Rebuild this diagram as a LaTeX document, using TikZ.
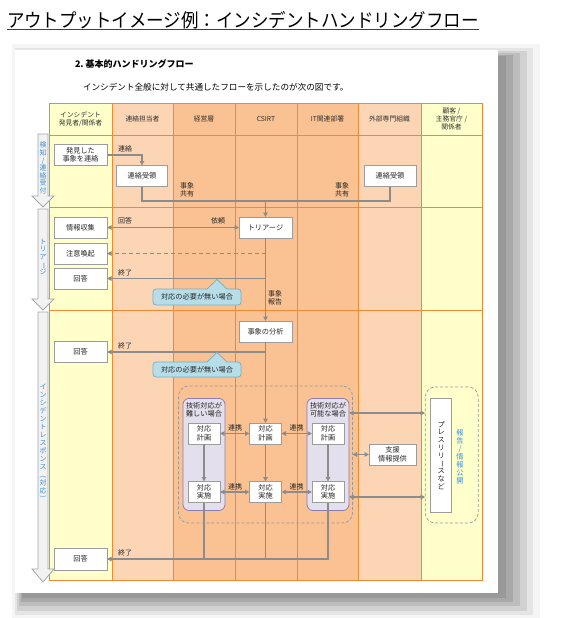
\documentclass[tikz,border=0pt]{standalone}
\usepackage{fontspec}
\setmainfont{Noto Sans CJK JP}
\usepackage{graphicx}
\usetikzlibrary{arrows.meta}
\definecolor{lineorange}{HTML}{EE8A33}
\definecolor{laneyellow}{HTML}{FFFFCC}
\definecolor{lanelight}{HTML}{FCD5B5}
\definecolor{lanedark}{HTML}{FAC192}
\definecolor{boxgray}{HTML}{9C9C9C}
\definecolor{flowgray}{HTML}{8C8C8C}
\definecolor{calloutblue}{HTML}{B7DEE8}
\definecolor{calloutedge}{HTML}{72AFC4}
\definecolor{teamfill}{HTML}{E4DFEC}
\definecolor{teamedge}{HTML}{8E7BAF}
\definecolor{phaseblue}{HTML}{3A8FD8}
\definecolor{phasegray}{HTML}{A6A6A6}
\definecolor{phasefill}{HTML}{F2F2F2}
\newcommand{\tatebo}{\rotatebox[origin=c]{-90}{ー}}
\newcommand{\tatelp}{\rotatebox[origin=c]{-90}{（}}
\newcommand{\taterp}{\rotatebox[origin=c]{-90}{）}}

\begin{document}
\begin{tikzpicture}[y=1pt, x=1pt, yscale=-1, inner sep=0pt, outer sep=0pt,
  lane/.style={draw=lineorange, line width=0.9pt},
  lanehead/.style={align=center, text=black!80, font=\fontsize{6.8}{8}\selectfont},
  stepbox/.style={draw=boxgray, fill=white, line width=0.7pt, minimum width=53pt,
    minimum height=21pt, align=center, text=black!85, font=\fontsize{7.2}{8.5}\selectfont},
  smallbox/.style={stepbox, minimum width=32pt},
  flow/.style={draw=flowgray, line width=1.2pt, -{Triangle[length=4.5pt,width=4.5pt]}},
  twoway/.style={draw=flowgray, line width=1.2pt,
    {Triangle[length=4.5pt,width=4.5pt]}-{Triangle[length=4.5pt,width=4.5pt]}},
  link/.style={draw=flowgray, line width=1.2pt},
  lbl/.style={anchor=west, align=left, text=black!85, font=\fontsize{7}{8}\selectfont},
  lblc/.style={text=black!85, font=\fontsize{7}{8}\selectfont},
  note/.style={draw=calloutedge, fill=calloutblue, rounded corners=3pt, line width=0.7pt,
    minimum width=88pt, minimum height=16pt, text=black!85, font=\fontsize{7.2}{8}\selectfont},
  team/.style={draw=teamedge, fill=teamfill, rounded corners=6pt, line width=0.8pt,
    minimum width=42pt, minimum height=112pt},
  teamtext/.style={align=center, text=black!85, font=\fontsize{7.2}{8}\selectfont},
  groupbox/.style={draw=black!40, dash pattern=on 3pt off 2pt, rounded corners=10pt,
    line width=0.7pt},
  phasearrow/.style={draw=phasegray, fill=phasefill, line width=0.8pt},
  phasetext/.style={text=phaseblue, align=center, font=\fontsize{7}{7.6}\selectfont}]
\useasboundingbox (0,0) rectangle (560,618);
\path[fill=white] (0,0) rectangle (560,618);
\path[fill=black!4] (12,44) rectangle (540,618);
\path[fill=black!10] (15,48) rectangle (533,615);
\path[fill=black!18] (17,51) rectangle (527,611);
\path[fill=black!26] (19,53) rectangle (520,606);
\path[fill=black!34] (21,55) rectangle (513,602);
\path[fill=black!40] (22,56) rectangle (506,598);
\path[fill=white] (15,50) rectangle (498,593);
\node[anchor=west] (title) at (7,20.5)
  {\fontsize{19}{22}\selectfont\scalebox{0.92}[1]{アウトプットイメージ例：インシデントハンドリングフロー}};
\path[draw=black!75, line width=1.3pt] (title.south west) -- (title.south east);
\node[anchor=west] (sectitle) at (75,64)
  {\fontsize{9}{11}\selectfont\bfseries 2.\ 基本的ハンドリングフロー};
\node[anchor=west] (lead) at (83,87)
  {\fontsize{8.6}{10}\selectfont インシデント全般に対して共通したフローを示したのが次の図です。};
\path[fill=laneyellow] (49,103) rectangle (112,580);
\path[fill=lanelight] (112,103) rectangle (173,580);
\path[fill=lanedark] (173,103) rectangle (358,580);
\path[fill=lanelight] (358,103) rectangle (421,580);
\path[fill=laneyellow] (421,103) rectangle (482,580);
\path[lane] (49,103) rectangle (482,580);
\path[lane] (112,103) -- (112,580);
\path[lane] (173,103) -- (173,580);
\path[lane] (235,103) -- (235,580);
\path[lane] (297,103) -- (297,580);
\path[lane] (358,103) -- (358,580);
\path[lane] (421,103) -- (421,580);
\path[lane] (49,135) -- (482,135);
\path[lane] (49,207) -- (482,207);
\path[lane] (49,310) -- (482,310);
\node[lanehead] (laneA) at (80.5,119) {インシデント\\発見者/関係者};
\node[lanehead] (laneB) at (142.5,119) {連絡担当者};
\node[lanehead] (laneC) at (204,119) {経営層};
\node[lanehead] (laneD) at (266,119) {CSIRT};
\node[lanehead] (laneE) at (327.5,119) {IT関連部署};
\node[lanehead] (laneF) at (389.5,119) {外部専門組織};
\node[lanehead] (laneG) at (451.5,119) {顧客 /\\主務官庁 /\\関係者};
\path[phasearrow] (38,134) -- (48,134) -- (48,196) -- (54,196) -- (43,207)
  -- (32,196) -- (38,196) -- cycle;
\path[phasearrow] (38,209) -- (48,209) -- (48,299) -- (54,299) -- (43,310)
  -- (32,299) -- (38,299) -- cycle;
\path[phasearrow] (38,312) -- (48,312) -- (48,569) -- (54,569) -- (43,582)
  -- (32,569) -- (38,569) -- cycle;
\node[phasetext] (phaseA) at (43,168) {検\\知\\/\\連\\絡\\受\\付};
\node[phasetext] (phaseB) at (43,257) {ト\\リ\\ア\\\tatebo\\ジ};
\node[phasetext, font=\fontsize{7}{8}\selectfont] (phaseC) at (43,443)
  {イ\\ン\\シ\\デ\\ン\\ト\\レ\\ス\\ポ\\ン\\ス\\\tatelp\\対\\応\\\taterp};
\node[groupbox, minimum width=174pt, minimum height=137pt] (outer) at (265.5,454.5) {};
\node[groupbox, minimum width=53pt, minimum height=136pt] (koho) at (451.7,455) {};
\node[team] (teamL) at (204,454.5) {};
\node[team] (teamR) at (328,454.5) {};
\node[teamtext] (teamLtext) at (204,410) {技術対応が\\難しい場合};
\node[teamtext] (teamRtext) at (328,410) {技術対応が\\可能な場合};
\node[stepbox] (hakken) at (80.5,155) {発見した\\事象を連絡};
\node[stepbox, minimum width=51pt] (renrakuA) at (142,176) {連絡受領};
\node[stepbox, minimum width=52pt] (renrakuB) at (390,176) {連絡受領};
\node[stepbox] (joho) at (80.5,227.5) {情報収集};
\node[stepbox] (triage) at (265.5,227.5) {トリアージ};
\node[stepbox] (chui) at (80.5,253.5) {注意喚起};
\node[stepbox] (kaitoA) at (80.5,278.5) {回答};
\node[stepbox] (bunseki) at (265.5,331.5) {事象の分析};
\node[stepbox] (kaitoB) at (80.5,352) {回答};
\node[stepbox, minimum height=22pt] (kaitoC) at (80.5,559) {回答};
\node[smallbox] (keikakuL) at (204,433.5) {対応\\計画};
\node[smallbox] (keikakuC) at (265.5,433.5) {対応\\計画};
\node[smallbox] (keikakuR) at (328,433.5) {対応\\計画};
\node[smallbox] (jisshiL) at (204,492) {対応\\実施};
\node[smallbox] (jisshiC) at (265.5,492) {対応\\実施};
\node[smallbox] (jisshiR) at (328,492) {対応\\実施};
\node[stepbox, minimum width=47pt] (shien) at (392.5,454.5) {支援\\情報提供};
\node[stepbox, minimum width=21pt, minimum height=114pt, font=\fontsize{7.2}{7.8}\selectfont]
  (press) at (441.2,455.5) {プ\\レ\\ス\\リ\\リ\\\tatebo\\ス\\な\\ど};
\node[phasetext, font=\fontsize{7.2}{8}\selectfont] (kokai) at (460,456.5)
  {報\\告\\/\\情\\報\\公\\開};
\coordinate (share) at (265.5,201);
\coordinate (pressA) at (0,413);
\coordinate (pressB) at (0,497);
\path[flow] (hakken.east) -| (renrakuA.north);
\path[link] (renrakuA.south) |- (share);
\path[link] (renrakuB.south) |- (share);
\path[flow] (share) -- (triage.north);
\path[twoway] (joho.east) -- (triage.west);
\path[flow, dash pattern=on 4pt off 3pt] (triage.south |- chui.east) -- (chui.east);
\path[flow] (triage.south |- kaitoA.east) -- (kaitoA.east);
\path[flow] (triage.south) -- (bunseki.north);
\path[flow] (bunseki.south |- kaitoB.east) -- (kaitoB.east);
\path[flow] (bunseki.south) -- (keikakuC.north);
\path[twoway] (keikakuL.east) -- (keikakuC.west);
\path[twoway] (keikakuC.east) -- (keikakuR.west);
\path[twoway] (jisshiL.east) -- (jisshiC.west);
\path[twoway] (jisshiC.east) -- (jisshiR.west);
\path[flow] (keikakuL.south) -- (jisshiL.north);
\path[flow] (keikakuC.south) -- (jisshiC.north);
\path[flow] (keikakuR.south) -- (jisshiR.north);
\path[link] (jisshiL.south) -- (jisshiL.south |- kaitoC.east);
\path[link] (jisshiC.south) -- (jisshiC.south |- kaitoC.east);
\path[flow] (jisshiR.south) |- (kaitoC.east);
\path[twoway] (teamR.east |- pressA) -- (koho.west |- pressA);
\path[twoway] (teamR.east |- pressB) -- (koho.west |- pressB);
\path[twoway] (outer.east |- shien.west) -- (shien.west);
\node[lbl] (lblrenraku) at (118,149) {連絡};
\node[lbl] (lblshareA) at (180,190) {事象\\共有};
\node[lbl] (lblshareB) at (335,190) {事象\\共有};
\node[lbl] (lblkaito) at (118,221) {回答};
\node[lbl] (lblirai) at (211,221) {依頼};
\node[lbl] (lblendA) at (118,273) {終了};
\node[lbl] (lblreport) at (268,298) {事象\\報告};
\node[lbl] (lblendB) at (118,346) {終了};
\node[lbl] (lblendC) at (118,553) {終了};
\node[lblc] (lblrenkeiA) at (235,428) {連携};
\node[lblc] (lblrenkeiB) at (296.5,428) {連携};
\node[lblc] (lblrenkeiC) at (235,487) {連携};
\node[lblc] (lblrenkeiD) at (296.5,487) {連携};
\node[note] (noteA) at (197,297) {対応の必要が無い場合};
\path[fill=calloutblue] (207,290) -- (217,279.5) -- (227,290) -- cycle;
\path[draw=calloutedge, line width=0.7pt] (207,289) -- (217,279.5) -- (227,289);
\node[note, minimum height=15pt] (noteB) at (197,369.5) {対応の必要が無い場合};
\path[fill=calloutblue] (207,363) -- (217,352.5) -- (227,363) -- cycle;
\path[draw=calloutedge, line width=0.7pt] (207,362) -- (217,352.5) -- (227,362);
\end{tikzpicture}
\end{document}
